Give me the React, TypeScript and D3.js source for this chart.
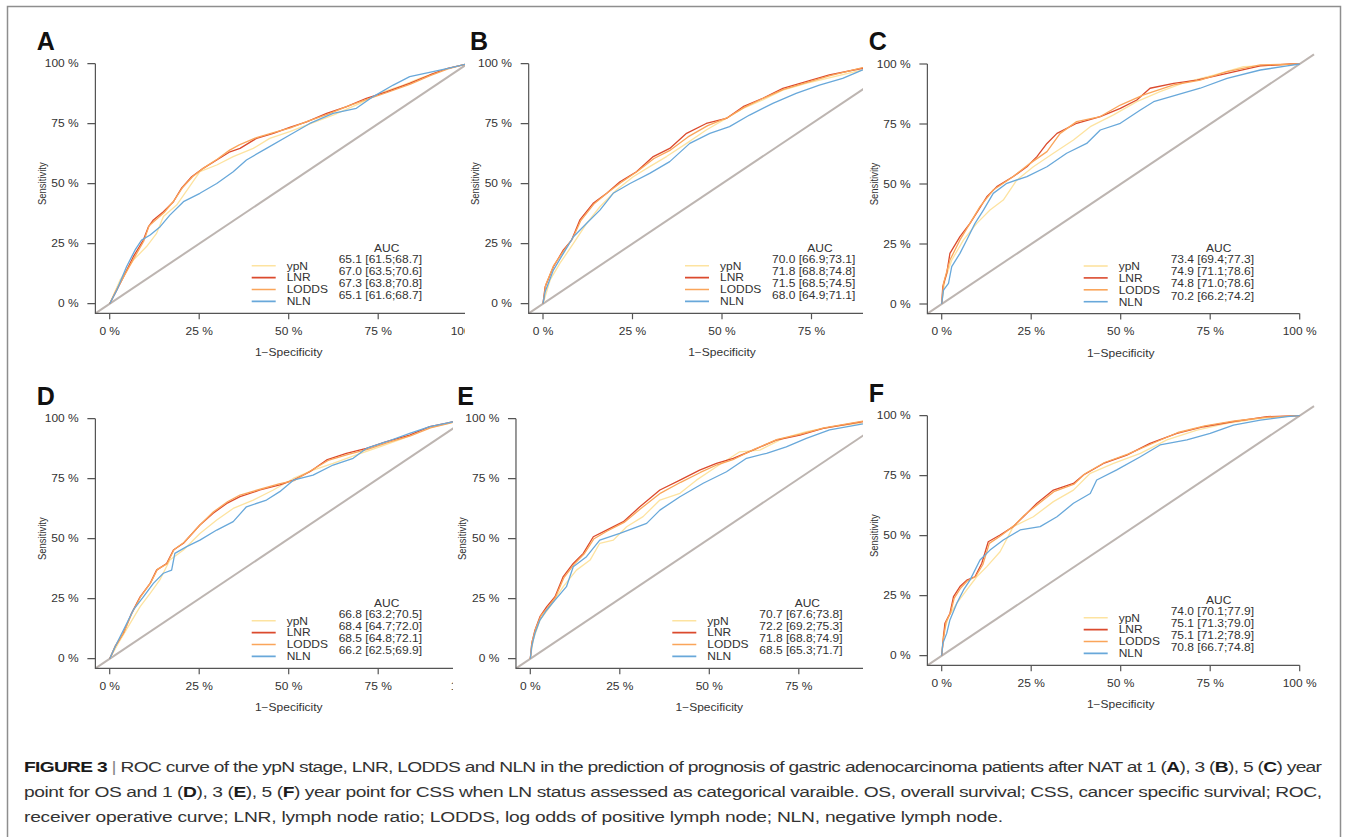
import React, { useEffect, useRef } from 'react';
import * as d3 from 'd3';

type Pt = [number, number];

const FONT = "'Liberation Sans', Arial, Helvetica, sans-serif";
const SX = 1.2; // the figure is stretched horizontally

const seriesNames = ['ypN', 'LNR', 'LODDS', 'NLN'];
const seriesColors = ['#FDE3A0', '#DB4A2D', '#FAA55A', '#68A8DA'];
const ticks = [0, 0.25, 0.5, 0.75, 1];
const tickLabels = ['0 %', '25 %', '50 %', '75 %', '100 %'];

// ---- panel A: 1 year OS
const aYpN: Pt[] = [[0,0],[0.029,0.099],[0.066,0.182],[0.103,0.238],[0.131,0.293],[0.15,0.363],[0.187,0.411],[0.252,0.55],[0.299,0.578],[0.345,0.613],[0.401,0.647],[0.447,0.689],[0.503,0.717],[0.559,0.749],[0.624,0.786],[0.699,0.835],[0.764,0.883],[0.82,0.911],[0.866,0.939],[0.945,0.981],[1,1]];
const aLnr: Pt[] = [[0,0],[0.015,0.043],[0.038,0.11],[0.066,0.196],[0.094,0.265],[0.108,0.32],[0.122,0.349],[0.15,0.383],[0.178,0.425],[0.2,0.48],[0.229,0.529],[0.261,0.564],[0.299,0.599],[0.336,0.633],[0.364,0.647],[0.41,0.689],[0.457,0.71],[0.503,0.735],[0.55,0.758],[0.606,0.793],[0.662,0.821],[0.717,0.856],[0.773,0.883],[0.838,0.918],[0.894,0.953],[0.945,0.981],[1,1]];
const aLodds: Pt[] = [[0,0],[0.016,0.05],[0.04,0.115],[0.068,0.19],[0.095,0.26],[0.11,0.325],[0.125,0.345],[0.152,0.38],[0.18,0.43],[0.203,0.483],[0.232,0.53],[0.265,0.568],[0.3,0.602],[0.335,0.64],[0.362,0.662],[0.41,0.692],[0.455,0.712],[0.505,0.733],[0.552,0.76],[0.61,0.79],[0.665,0.823],[0.72,0.852],[0.775,0.88],[0.84,0.915],[0.895,0.95],[0.945,0.978],[1,1]];
const aNln: Pt[] = [[0,0],[0.02,0.057],[0.047,0.154],[0.071,0.224],[0.089,0.265],[0.113,0.286],[0.141,0.321],[0.168,0.369],[0.206,0.425],[0.252,0.46],[0.299,0.501],[0.345,0.55],[0.382,0.599],[0.438,0.647],[0.503,0.703],[0.559,0.751],[0.624,0.793],[0.689,0.814],[0.736,0.863],[0.792,0.911],[0.838,0.946],[0.903,0.967],[0.945,0.981],[1,1]];
const aucA = ['65.1 [61.5;68.7]', '67.0 [63.5;70.6]', '67.3 [63.8;70.8]', '65.1 [61.6;68.7]'];

// ---- panel B: 3 year OS
const bYpN: Pt[] = [[0,0],[0.02,0.099],[0.047,0.168],[0.085,0.251],[0.122,0.335],[0.159,0.404],[0.205,0.474],[0.252,0.529],[0.298,0.571],[0.345,0.613],[0.401,0.668],[0.456,0.724],[0.512,0.772],[0.559,0.814],[0.614,0.849],[0.67,0.89],[0.735,0.918],[0.893,0.974],[1,1]];
const bLnr: Pt[] = [[0,0],[0.006,0.071],[0.029,0.154],[0.057,0.224],[0.08,0.265],[0.103,0.349],[0.14,0.418],[0.178,0.46],[0.215,0.508],[0.261,0.55],[0.308,0.613],[0.354,0.647],[0.401,0.71],[0.456,0.751],[0.512,0.772],[0.559,0.821],[0.614,0.856],[0.67,0.897],[0.735,0.925],[0.8,0.953],[0.893,0.981],[1,1]];
const bLodds: Pt[] = [[0,0],[0.008,0.08],[0.03,0.16],[0.058,0.22],[0.082,0.27],[0.105,0.345],[0.142,0.415],[0.18,0.462],[0.218,0.505],[0.265,0.553],[0.31,0.605],[0.356,0.64],[0.405,0.695],[0.46,0.742],[0.515,0.775],[0.562,0.818],[0.618,0.858],[0.672,0.893],[0.738,0.922],[0.802,0.95],[0.893,0.984],[1,1]];
const bNln: Pt[] = [[0,0],[0.006,0.05],[0.029,0.14],[0.057,0.21],[0.085,0.279],[0.122,0.335],[0.159,0.39],[0.196,0.46],[0.243,0.501],[0.298,0.543],[0.354,0.592],[0.41,0.668],[0.466,0.71],[0.521,0.738],[0.577,0.786],[0.642,0.835],[0.707,0.876],[0.772,0.911],[0.837,0.939],[0.893,0.974],[1,1]];
const aucB = ['70.0 [66.9;73.1]', '71.8 [68.8;74.8]', '71.5 [68.5;74.5]', '68.0 [64.9;71.1]'];

// ---- panel C: 5 year OS
const cYpN: Pt[] = [[0,0],[0.009,0.1],[0.028,0.183],[0.061,0.267],[0.098,0.336],[0.135,0.392],[0.172,0.433],[0.21,0.517],[0.256,0.572],[0.312,0.628],[0.368,0.683],[0.415,0.739],[0.48,0.788],[0.545,0.843],[0.61,0.885],[0.685,0.926],[0.76,0.954],[0.843,0.989],[1,1]];
const cLnr: Pt[] = [[0,0],[0.003,0.072],[0.014,0.128],[0.023,0.211],[0.051,0.281],[0.079,0.336],[0.103,0.392],[0.126,0.447],[0.154,0.489],[0.2,0.531],[0.238,0.572],[0.266,0.614],[0.294,0.669],[0.322,0.711],[0.377,0.753],[0.443,0.781],[0.499,0.815],[0.545,0.85],[0.582,0.899],[0.648,0.919],[0.713,0.933],[0.797,0.961],[0.89,0.992],[0.974,1],[1,1]];
const cLodds: Pt[] = [[0,0],[0.005,0.086],[0.023,0.183],[0.051,0.267],[0.079,0.336],[0.107,0.406],[0.144,0.475],[0.2,0.531],[0.247,0.586],[0.294,0.635],[0.331,0.711],[0.377,0.76],[0.443,0.781],[0.499,0.829],[0.564,0.871],[0.648,0.913],[0.722,0.933],[0.797,0.968],[0.89,0.996],[1,1]];
const cNln: Pt[] = [[0,0],[0.005,0.058],[0.019,0.086],[0.028,0.156],[0.051,0.211],[0.07,0.267],[0.093,0.336],[0.117,0.392],[0.144,0.461],[0.182,0.503],[0.238,0.531],[0.294,0.572],[0.349,0.628],[0.405,0.669],[0.443,0.725],[0.499,0.753],[0.555,0.808],[0.592,0.843],[0.657,0.871],[0.722,0.899],[0.797,0.94],[0.89,0.975],[0.965,0.992],[1,1]];
const aucC = ['73.4 [69.4;77.3]', '74.9 [71.1;78.6]', '74.8 [71.0;78.6]', '70.2 [66.2;74.2]'];

// ---- panel D: 1 year CSS
const dYpN: Pt[] = [[0,0],[0.024,0.064],[0.057,0.147],[0.085,0.217],[0.113,0.272],[0.14,0.328],[0.168,0.411],[0.206,0.453],[0.252,0.522],[0.299,0.578],[0.345,0.626],[0.401,0.661],[0.457,0.703],[0.513,0.751],[0.568,0.786],[0.624,0.814],[0.689,0.849],[0.754,0.883],[0.82,0.918],[0.885,0.96],[0.945,0.981],[1,1]];
const dLnr: Pt[] = [[0,0],[0.015,0.05],[0.038,0.106],[0.061,0.189],[0.085,0.258],[0.113,0.314],[0.131,0.369],[0.159,0.397],[0.178,0.453],[0.206,0.481],[0.252,0.557],[0.289,0.606],[0.327,0.647],[0.364,0.675],[0.42,0.703],[0.475,0.724],[0.513,0.744],[0.559,0.779],[0.606,0.828],[0.661,0.856],[0.717,0.876],[0.773,0.904],[0.838,0.932],[0.894,0.967],[0.945,0.983],[1,1]];
const dLodds: Pt[] = [[0,0],[0.016,0.055],[0.04,0.11],[0.063,0.192],[0.087,0.26],[0.115,0.318],[0.133,0.372],[0.16,0.395],[0.18,0.455],[0.208,0.485],[0.254,0.56],[0.29,0.612],[0.33,0.655],[0.364,0.682],[0.418,0.705],[0.473,0.728],[0.515,0.742],[0.56,0.782],[0.61,0.826],[0.664,0.85],[0.72,0.872],[0.776,0.9],[0.84,0.928],[0.896,0.962],[0.945,0.98],[1,1]];
const dNln: Pt[] = [[0,0],[0.015,0.05],[0.043,0.133],[0.066,0.203],[0.094,0.258],[0.122,0.314],[0.15,0.356],[0.173,0.369],[0.182,0.439],[0.215,0.467],[0.252,0.494],[0.299,0.536],[0.345,0.571],[0.382,0.633],[0.438,0.661],[0.475,0.696],[0.513,0.744],[0.568,0.765],[0.624,0.807],[0.68,0.835],[0.717,0.876],[0.773,0.904],[0.838,0.939],[0.894,0.967],[0.945,0.983],[1,1]];
const aucD = ['66.8 [63.2;70.5]', '68.4 [64.7;72.0]', '68.5 [64.8;72.1]', '66.2 [62.5;69.9]'];

// ---- panel E: 3 year CSS
const eYpN: Pt[] = [[0,0],[0.008,0.078],[0.027,0.161],[0.055,0.217],[0.092,0.3],[0.129,0.369],[0.167,0.411],[0.194,0.481],[0.232,0.494],[0.269,0.55],[0.315,0.592],[0.362,0.661],[0.418,0.689],[0.464,0.744],[0.52,0.8],[0.585,0.862],[0.641,0.869],[0.706,0.918],[0.771,0.946],[0.846,0.967],[0.929,0.983],[1,1]];
const eLnr: Pt[] = [[0,0],[0.004,0.064],[0.013,0.119],[0.027,0.175],[0.046,0.217],[0.069,0.258],[0.092,0.342],[0.12,0.397],[0.148,0.439],[0.176,0.508],[0.213,0.536],[0.26,0.571],[0.306,0.633],[0.362,0.703],[0.418,0.744],[0.473,0.786],[0.52,0.814],[0.567,0.835],[0.622,0.869],[0.687,0.911],[0.753,0.932],[0.818,0.96],[0.929,0.988],[1,1]];
const eLodds: Pt[] = [[0,0],[0.005,0.07],[0.015,0.125],[0.03,0.18],[0.048,0.212],[0.07,0.255],[0.094,0.338],[0.122,0.393],[0.15,0.436],[0.178,0.5],[0.215,0.532],[0.262,0.568],[0.308,0.625],[0.364,0.69],[0.42,0.735],[0.475,0.776],[0.522,0.808],[0.57,0.832],[0.625,0.872],[0.69,0.914],[0.755,0.936],[0.82,0.962],[0.929,0.99],[1,1]];
const eNln: Pt[] = [[0,0],[0.004,0.05],[0.013,0.106],[0.027,0.161],[0.046,0.203],[0.069,0.244],[0.101,0.3],[0.12,0.383],[0.157,0.425],[0.194,0.494],[0.25,0.522],[0.325,0.564],[0.362,0.619],[0.418,0.675],[0.483,0.731],[0.548,0.779],[0.604,0.835],[0.66,0.856],[0.715,0.883],[0.771,0.918],[0.836,0.953],[0.929,0.978],[1,1]];
const aucE = ['70.7 [67.6;73.8]', '72.2 [69.2;75.3]', '71.8 [68.8;74.9]', '68.5 [65.3;71.7]'];

// ---- panel F: 5 year CSS
const fYpN: Pt[] = [[0,0],[0.005,0.093],[0.019,0.163],[0.042,0.218],[0.07,0.274],[0.098,0.329],[0.126,0.371],[0.163,0.433],[0.2,0.538],[0.256,0.579],[0.312,0.642],[0.368,0.69],[0.415,0.76],[0.48,0.801],[0.555,0.843],[0.629,0.899],[0.713,0.94],[0.797,0.968],[0.89,0.989],[1,1]];
const fLnr: Pt[] = [[0,0],[0.005,0.079],[0.009,0.135],[0.023,0.176],[0.033,0.246],[0.051,0.288],[0.07,0.315],[0.093,0.329],[0.112,0.385],[0.13,0.475],[0.163,0.503],[0.2,0.538],[0.228,0.579],[0.266,0.635],[0.312,0.69],[0.368,0.718],[0.396,0.753],[0.452,0.801],[0.517,0.836],[0.582,0.885],[0.657,0.926],[0.732,0.954],[0.815,0.975],[0.909,0.996],[1,1]];
const fLodds: Pt[] = [[0,0],[0.005,0.07],[0.012,0.14],[0.025,0.18],[0.035,0.24],[0.053,0.282],[0.072,0.312],[0.095,0.33],[0.115,0.38],[0.133,0.468],[0.165,0.5],[0.202,0.542],[0.23,0.584],[0.268,0.63],[0.315,0.685],[0.37,0.715],[0.4,0.758],[0.455,0.805],[0.52,0.84],[0.585,0.882],[0.66,0.93],[0.735,0.958],[0.818,0.978],[0.91,0.994],[1,1]];
const fNln: Pt[] = [[0,0],[0.003,0.051],[0.014,0.093],[0.023,0.149],[0.042,0.218],[0.061,0.274],[0.079,0.315],[0.107,0.399],[0.135,0.44],[0.172,0.482],[0.219,0.524],[0.275,0.538],[0.322,0.579],[0.368,0.635],[0.415,0.676],[0.433,0.732],[0.489,0.774],[0.555,0.829],[0.61,0.878],[0.685,0.899],[0.75,0.926],[0.815,0.961],[0.89,0.982],[0.965,0.996],[1,1]];
const aucF = ['74.0 [70.1;77.9]', '75.1 [71.3;79.0]', '75.1 [71.2;78.9]', '70.8 [66.7;74.8]'];

const captionLines: [string, boolean][][] = [
  [['FIGURE 3', true], [' | ', false], ['ROC curve of the ypN stage, LNR, LODDS and NLN in the prediction of prognosis of gastric adenocarcinoma patients after NAT at 1 (', false], ['A', true], ['), 3 (', false], ['B', true], ['), 5 (', false], ['C', true], [') year', false]],
  [['point for OS and 1 (', false], ['D', true], ['), 3 (', false], ['E', true], ['), 5 (', false], ['F', true], [') year point for CSS when LN status assessed as categorical varaible. OS, overall survival; CSS, cancer specific survival; ROC,', false]],
  [['receiver operative curve; LNR, lymph node ratio; LODDS, log odds of positive lymph node; NLN, negative lymph node.', false]],
];

// layout of the six panels (pixel position of 0 %/0 % and horizontal clip)
const panels = [
  { letter: 'A', x0: 109.7, y0: 303.7, clip: [8, 465], curves: [aYpN, aLnr, aLodds, aNln], auc: aucA },
  { letter: 'B', x0: 543, y0: 303.7, clip: [465, 863], curves: [bYpN, bLnr, bLodds, bNln], auc: aucB },
  { letter: 'C', x0: 941.7, y0: 304, clip: [863, 1340], curves: [cYpN, cLnr, cLodds, cNln], auc: aucC },
  { letter: 'D', x0: 109.7, y0: 658.7, clip: [8, 453], curves: [dYpN, dLnr, dLodds, dNln], auc: aucD },
  { letter: 'E', x0: 530.3, y0: 658.7, clip: [453, 863], curves: [eYpN, eLnr, eLodds, eNln], auc: aucE },
  { letter: 'F', x0: 941.7, y0: 655.7, clip: [863, 1340], curves: [fYpN, fLnr, fLodds, fNln], auc: aucF },
];

function stretchedText(g: any, x: number, y: number, str: string, anchor = 'start', size = 10, fill = '#333') {
  return g.append('text')
    .attr('transform', `translate(${x},${y}) scale(${SX},1)`)
    .attr('text-anchor', anchor)
    .attr('font-size', size)
    .attr('fill', fill)
    .text(str);
}

export default function App() {
  const svgRef = useRef<SVGSVGElement>(null);

  useEffect(() => {
    if (!svgRef.current) return;
    const svg = d3.select(svgRef.current);
    svg.selectAll('*').remove();

    svg.append('rect').attr('width', 1348).attr('height', 837).attr('fill', '#fff');
    // outer frame
    svg.append('rect')
      .attr('x', 7.5).attr('y', 6.5).attr('width', 1333).attr('height', 845)
      .attr('fill', 'none').attr('stroke', '#8e8e8e').attr('stroke-width', 1.5);

    const defs = svg.append('defs');

    panels.forEach((p) => {
      const x = d3.scaleLinear().domain([0, 1]).range([p.x0, p.x0 + 358]);
      const y = d3.scaleLinear().domain([0, 1]).range([p.y0, p.y0 - 240]);
      const lo = -0.04;
      const hi = 1.04;

      defs.append('clipPath').attr('id', `clip-${p.letter}`)
        .append('rect')
        .attr('x', p.clip[0]).attr('y', p.y0 - 290)
        .attr('width', p.clip[1] - p.clip[0]).attr('height', 360);

      const g = svg.append('g')
        .attr('clip-path', `url(#clip-${p.letter})`)
        .attr('font-family', FONT);

      // panel letter
      g.append('text')
        .attr('x', p.x0 - 73).attr('y', p.y0 - 254)
        .attr('font-size', 25).attr('font-weight', 'bold').attr('fill', '#111')
        .text(p.letter);

      // reference diagonal
      g.append('line')
        .attr('x1', x(lo)).attr('y1', y(lo)).attr('x2', x(hi)).attr('y2', y(hi))
        .attr('stroke', '#BDB5B1').attr('stroke-width', 2);

      // L-shaped axes
      g.append('path')
        .attr('d', `M${x(lo)},${y(1)}V${y(lo)}H${x(1)}`)
        .attr('fill', 'none').attr('stroke', '#555').attr('stroke-width', 1.2);

      ticks.forEach((t, i) => {
        g.append('line')
          .attr('x1', x(lo)).attr('x2', x(lo) - 8)
          .attr('y1', y(t)).attr('y2', y(t))
          .attr('stroke', '#555').attr('stroke-width', 1.2);
        stretchedText(g, p.x0 - 31, y(t) + 3.6, tickLabels[i], 'end');

        g.append('line')
          .attr('x1', x(t)).attr('x2', x(t))
          .attr('y1', y(lo)).attr('y2', y(lo) + 6)
          .attr('stroke', '#555').attr('stroke-width', 1.2);
        stretchedText(g, x(t), p.y0 + 30.9, tickLabels[i], 'middle');
      });

      stretchedText(g, x(0.5), p.y0 + 52.5, '1\u2212Specificity', 'middle');
      g.append('text')
        .attr('transform', `translate(${p.x0 - 64},${(y(0) + y(1)) / 2}) scale(${SX},1) rotate(-90)`)
        .attr('text-anchor', 'middle').attr('font-size', 9.5).attr('fill', '#333')
        .text('Sensitivity');

      // ROC curves
      const line = d3.line<Pt>().x((d) => x(d[0])).y((d) => y(d[1]));
      p.curves.forEach((c, i) => {
        g.append('path')
          .datum(c)
          .attr('d', line)
          .attr('fill', 'none')
          .attr('stroke', seriesColors[i])
          .attr('stroke-width', 1.3)
          .attr('stroke-linejoin', 'round');
      });

      // legend with AUC
      stretchedText(g, p.x0 + 277, p.y0 - 51.8, 'AUC', 'middle');
      seriesNames.forEach((name, i) => {
        const ly = p.y0 - 38 + 11.9 * i;
        g.append('line')
          .attr('x1', p.x0 + 142).attr('x2', p.x0 + 166)
          .attr('y1', ly).attr('y2', ly)
          .attr('stroke', seriesColors[i]).attr('stroke-width', 1.6);
        stretchedText(g, p.x0 + 177, p.y0 - 34.2 + 11.9 * i, name);
        stretchedText(g, p.x0 + 229, p.y0 - 40.8 + 12.1 * i, p.auc[i]);
      });
    });

    // caption (justified lines 1 and 2)
    const capSX = 1.24;
    const cap = svg.append('g').attr('font-family', FONT).attr('font-size', 15.5).attr('fill', '#333');
    const lineWidths = [1298, 1298, 979];
    captionLines.forEach((parts, li) => {
      const t = cap.append('text')
        .attr('transform', `translate(24,${772 + 25 * li}) scale(${capSX},1)`)
        .attr('textLength', lineWidths[li] / capSX)
        .attr('lengthAdjust', 'spacing');
      parts.forEach(([s, bold]) => {
        const ts = t.append('tspan').text(s);
        if (bold) ts.attr('font-weight', 'bold').attr('fill', '#1a1a1a');
        if (s === ' | ') ts.attr('fill', '#888');
      });
    });
  }, []);

  return (
    <svg
      ref={svgRef}
      width={1348}
      height={837}
      style={{ position: 'absolute', left: 0, top: 0, display: 'block' }}
    />
  );
}
